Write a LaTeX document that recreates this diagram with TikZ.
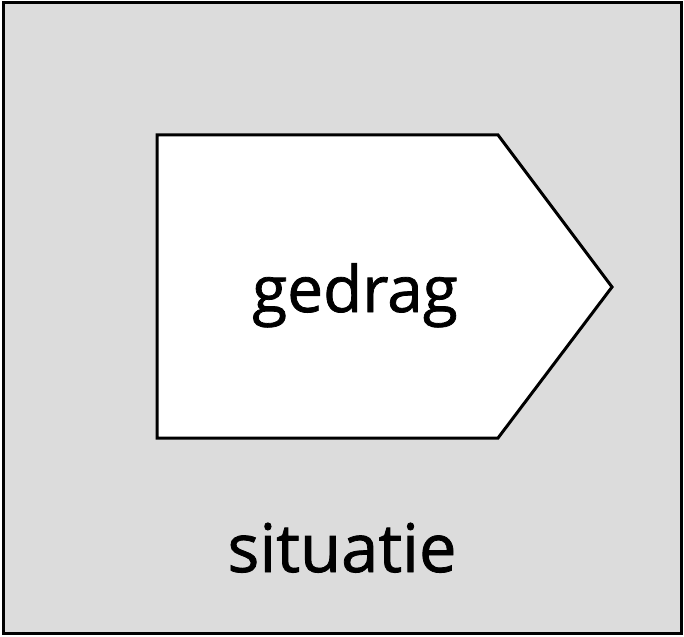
\documentclass[tikz,border=0pt]{standalone}
\usepackage{fontspec}
\setmainfont{Open Sans}
\newfontfamily\labelfont[FakeBold=1.2]{Open Sans}
\definecolor{bggray}{HTML}{DCDCDC}
\tikzset{
  frame/.style={draw=black, line width=3pt, fill=bggray},
  arrowshape/.style={draw=black, line width=3pt, fill=white},
  label/.style={font=\labelfont\fontsize{64}{68}\selectfont, inner sep=0pt, anchor=base}
}
\begin{document}
\begin{tikzpicture}[x=1pt,y=-1pt]
\useasboundingbox (0,0) rectangle (684,636);
\draw[frame] (3,3) rectangle (681,633);
\draw[arrowshape] (157,135) -- (498,135) -- (612,287) -- (498,438) -- (157,438) -- cycle;
\node[label] (gedrag) at (355,312) {gedrag};
\node[label, font=\labelfont\fontsize{67}{70}\selectfont] (situatie) at (342,572) {situatie};
\end{tikzpicture}
\end{document}
